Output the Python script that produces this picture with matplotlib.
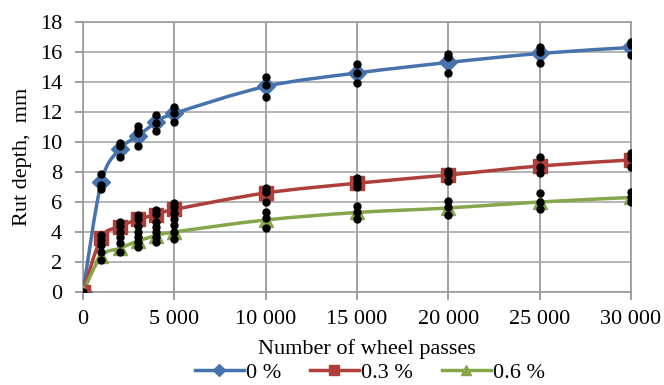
import numpy as np
import matplotlib
matplotlib.use("Agg")
import matplotlib.pyplot as plt
from matplotlib.path import Path
from matplotlib.patches import PathPatch
from matplotlib.lines import Line2D
from matplotlib.ticker import FuncFormatter, MultipleLocator

passes = [0, 1000, 2000, 3000, 4000, 5000, 10000, 15000, 20000, 25000, 30000]
mean_0 = [0, 7.3, 9.5, 10.4, 11.3, 11.9, 13.7, 14.6, 15.3, 15.9, 16.3]
mean_03 = [0, 3.6, 4.35, 4.85, 5.15, 5.5, 6.6, 7.25, 7.8, 8.4, 8.8]
mean_06 = [0, 2.4, 2.9, 3.4, 3.75, 4.0, 4.8, 5.3, 5.6, 6.0, 6.3]

# individual measurements at each number of passes
meas = [
    [0],
    [7.87, 7.13, 6.84, 3.8, 3.47, 3.13, 2.69, 2.13],
    [9.95, 9.75, 9.02, 4.69, 4.4, 4.02, 3.64, 3.24, 2.69],
    [11.07, 10.8, 10.58, 9.73, 5.13, 4.84, 4.4, 4.02, 3.69, 3.36, 3.02],
    [11.8, 11.24, 10.73, 5.47, 5.2, 4.69, 4.36, 4.02, 3.69, 3.36],
    [12.31, 11.96, 11.36, 5.91, 5.64, 5.24, 4.84, 4.47, 4.02, 3.51],
    [14.31, 13.8, 13.02, 6.96, 6.69, 6.02, 5.36, 4.91, 4.24],
    [15.18, 14.62, 13.91, 7.62, 7.24, 7.02, 5.76, 5.36, 4.84],
    [15.84, 15.64, 14.58, 8.09, 7.87, 7.4, 6.09, 5.69, 5.13],
    [16.31, 16.02, 15.24, 8.98, 8.36, 7.91, 6.58, 6.02, 5.51],
    [16.69, 16.47, 15.8, 9.29, 8.96, 8.36, 6.69, 6.36, 6.02],
]

SERIES = [("0 %", mean_0, "#4673AC", "D", 9),
          ("0.3 %", mean_03, "#AE3F3B", "s", 10),
          ("0.6 %", mean_06, "#86A64B", "^", 10)]


def smooth_path(x, y):
    # Excel-style smoothed line: cubic Bezier through the points
    pts = np.column_stack([x, y]).astype(float)
    n = len(pts)
    verts, codes = [pts[0]], [Path.MOVETO]
    for i in range(n - 1):
        p0, p1 = pts[max(i - 1, 0)], pts[i]
        p2, p3 = pts[i + 1], pts[min(i + 2, n - 1)]
        verts += [p1 + (p2 - p0) / 6, p2 - (p3 - p1) / 6, p2]
        codes += [Path.CURVE4] * 3
    return Path(verts, codes)


plt.rcParams["font.family"] = ["Liberation Serif", "DejaVu Serif"]
fig = plt.figure(figsize=(6.64, 3.85), dpi=100)
ax = fig.add_axes([0.125, 0.2416, 0.825, 0.7013])

handles = []
for lab, ys, col, mk, ms in SERIES:
    ax.add_patch(PathPatch(smooth_path(passes, ys), facecolor="none", edgecolor=col,
                           lw=2.5, capstyle="round", zorder=3))
    ax.plot(passes, ys, ls="none", marker=mk, ms=ms, color=col, mec=col, zorder=4)
    handles.append(Line2D([], [], color=col, lw=2.5, marker=mk, ms=ms * 0.7, label=lab))

for x, vals in zip(passes, meas):
    ax.plot([x] * len(vals), vals, ls="none", marker="o", ms=5, color="black", zorder=5)

ax.set_xlim(0, 30000)
ax.set_ylim(0, 18)
ax.xaxis.set_major_locator(MultipleLocator(5000))
ax.yaxis.set_major_locator(MultipleLocator(2))
ax.xaxis.set_major_formatter(FuncFormatter(lambda v, p: f"{int(v):,}".replace(",", " ")))
ax.yaxis.grid(True, color="#a8a8a8", lw=1.2)
ax.xaxis.grid(True, color="#929292", lw=1.2)
ax.set_axisbelow(True)
for s in ax.spines.values():
    s.set_color("#9a9a9a")
    s.set_linewidth(1.2)
ax.tick_params(axis="both", colors="#8c8c8c", length=6, width=1.2, labelsize=16,
               labelcolor="black")
ax.tick_params(axis="y", pad=9)
ax.tick_params(axis="x", pad=7)

ax.set_xlabel("Number of wheel passes", fontsize=16)
ax.xaxis.set_label_coords(0.518, -0.175)
ax.set_ylabel("Rut depth,  mm", fontsize=16)
ax.yaxis.set_label_coords(-0.093, 0.5)

fig.legend(handles=handles, loc="center", bbox_to_anchor=(0.557, 0.032), ncol=3,
           frameon=False, fontsize=16, handlelength=2.2, handletextpad=0.1,
           columnspacing=1.3, borderpad=0.1)

fig.savefig("out.png", dpi=100)
